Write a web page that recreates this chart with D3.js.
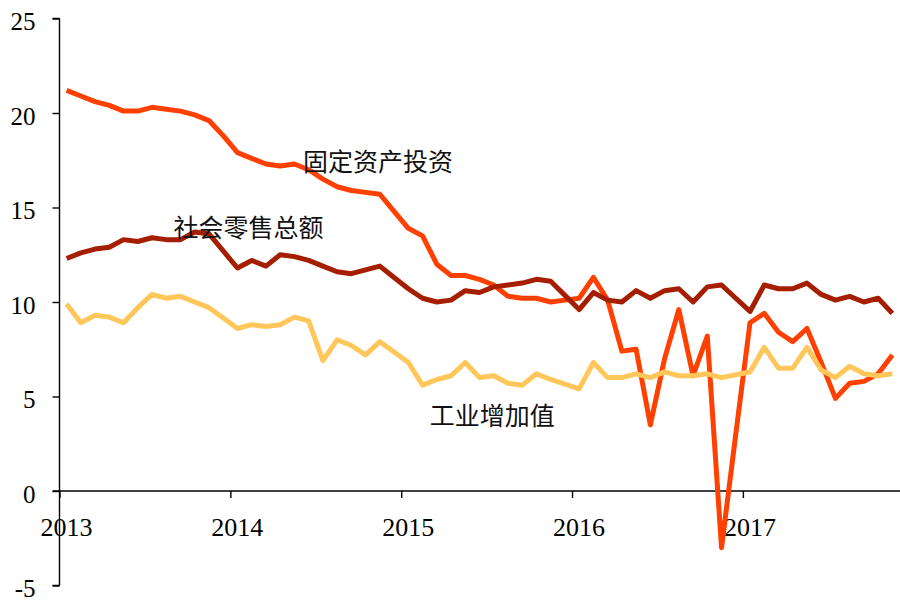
<!DOCTYPE html>
<html>
<head>
<meta charset="utf-8">
<script src="https://cdn.jsdelivr.net/npm/d3@7"></script>
<style>
  body { margin: 0; background: #fff; }
  svg { display: block; }
</style>
</head>
<body>
<script>
// monthly growth rates, %, one value per month from the first point on
const fixedInvest = [21.2,20.9,20.6,20.4,20.1,20.1,20.3,20.2,20.1,19.9,19.6,18.8,
  17.9,17.6,17.3,17.2,17.3,17.0,16.5,16.1,15.9,15.8,15.7,14.8,
  13.9,13.5,12.0,11.4,11.4,11.2,10.9,10.3,10.2,10.2,10.0,10.1,
  10.2,11.3,10.1,7.4,7.5,3.5,7.0,9.6,6.1,8.2,-3.0,3.0,
  8.9,9.4,8.4,7.9,8.6,6.8,4.9,5.7,5.8,6.2,7.2];
const retail = [12.3,12.6,12.8,12.9,13.3,13.2,13.4,13.3,13.3,13.7,13.6,12.7,
  11.8,12.2,11.9,12.5,12.4,12.2,11.9,11.6,11.5,11.7,11.9,11.3,
  10.7,10.2,10.0,10.1,10.6,10.5,10.8,10.9,11.0,11.2,11.1,10.35,
  9.6,10.5,10.1,10.0,10.6,10.2,10.6,10.7,10.0,10.8,10.9,10.2,
  9.5,10.9,10.7,10.7,11.0,10.4,10.1,10.3,10.0,10.2,9.4];
const industry = [9.9,8.9,9.3,9.2,8.9,9.7,10.4,10.2,10.3,10.0,9.7,9.15,
  8.6,8.8,8.7,8.8,9.2,9.0,6.9,8.0,7.7,7.2,7.9,7.35,
  6.8,5.6,5.9,6.1,6.8,6.0,6.1,5.7,5.6,6.2,5.9,5.65,
  5.4,6.8,6.0,6.0,6.2,6.0,6.3,6.1,6.1,6.2,6.0,6.15,
  6.3,7.6,6.5,6.5,7.6,6.4,6.0,6.6,6.2,6.1,6.2];

const years = ["2013","2014","2015","2016","2017"];
const yTicks = [-5,0,5,10,15,20,25];

const seriesNames = ["固定资产投资","社会零售总额","工业增加值"];
const seriesColors = ["#ff4000","#a61e00","#ffc65a"];

const width = 900, height = 606;

const svg = d3.select("body").append("svg")
    .attr("width", width)
    .attr("height", height);

const x = d3.scaleLinear().domain([0, fixedInvest.length]).range([59.5, 899.5]);
const y = d3.scaleLinear().domain([-5, 25]).range([585.5, 18.5]);

// y axis
const yAxis = svg.append("g")
    .attr("transform", "translate(" + x(0) + ",0)")
    .call(d3.axisLeft(y).tickValues(yTicks).tickSize(7).tickPadding(17)
        .tickFormat(d => String(d)));
yAxis.select(".domain").attr("stroke", "#000").attr("stroke-width", 1.4)
    .attr("d", "M0," + y(25) + "V" + y(-5) + "M-7," + y(25) + "H0M-7," + y(-5) + "H0");
yAxis.selectAll(".tick line").attr("stroke", "#000").attr("stroke-width", 1.4);
yAxis.selectAll(".tick text")
    .attr("font-family", "'Liberation Serif', 'Times New Roman', serif")
    .attr("font-size", 25)
    .attr("fill", "#000")
    .attr("dy", "0.44em");

// x axis on the zero line
const xAxis = svg.append("g")
    .attr("transform", "translate(0," + y(0) + ")")
    .call(d3.axisBottom(x).tickValues(years.map((d, i) => i * 12))
        .tickFormat((d, i) => years[i]).tickSize(7).tickPadding(20));
xAxis.select(".domain").attr("stroke", "#000").attr("stroke-width", 1.4)
    .attr("d", "M" + (x(0) - 7) + ",0H" + width);
xAxis.selectAll(".tick line").attr("stroke", "#000").attr("stroke-width", 1.4);
xAxis.selectAll(".tick text")
    .attr("font-family", "'Liberation Serif', 'Times New Roman', serif")
    .attr("font-size", 26)
    .attr("fill", "#000")
    .attr("dx", 6.5);

// lines
const line = d3.line()
    .x((d, i) => x(i + 0.5))
    .y(d => y(d));

const allSeries = [fixedInvest, retail, industry];
svg.selectAll(".series")
    .data(allSeries)
    .join("path")
    .attr("class", "series")
    .attr("fill", "none")
    .attr("stroke", (d, i) => seriesColors[i])
    .attr("stroke-width", 5)
    .attr("stroke-linejoin", "round")
    .attr("d", line);

// series labels, placed by data position (month index, value)
const labelPos = [[17.1, 17.5], [8, 14.0], [26.0, 4.1]];
svg.selectAll(".label")
    .data(seriesNames)
    .join("text")
    .attr("class", "label")
    .attr("x", (d, i) => x(labelPos[i][0]))
    .attr("y", (d, i) => y(labelPos[i][1]))
    .attr("dominant-baseline", "central")
    .attr("font-family", "'Noto Sans CJK SC', sans-serif")
    .attr("font-size", 25)
    .attr("fill", "#111")
    .text(d => d);
</script>
</body>
</html>
